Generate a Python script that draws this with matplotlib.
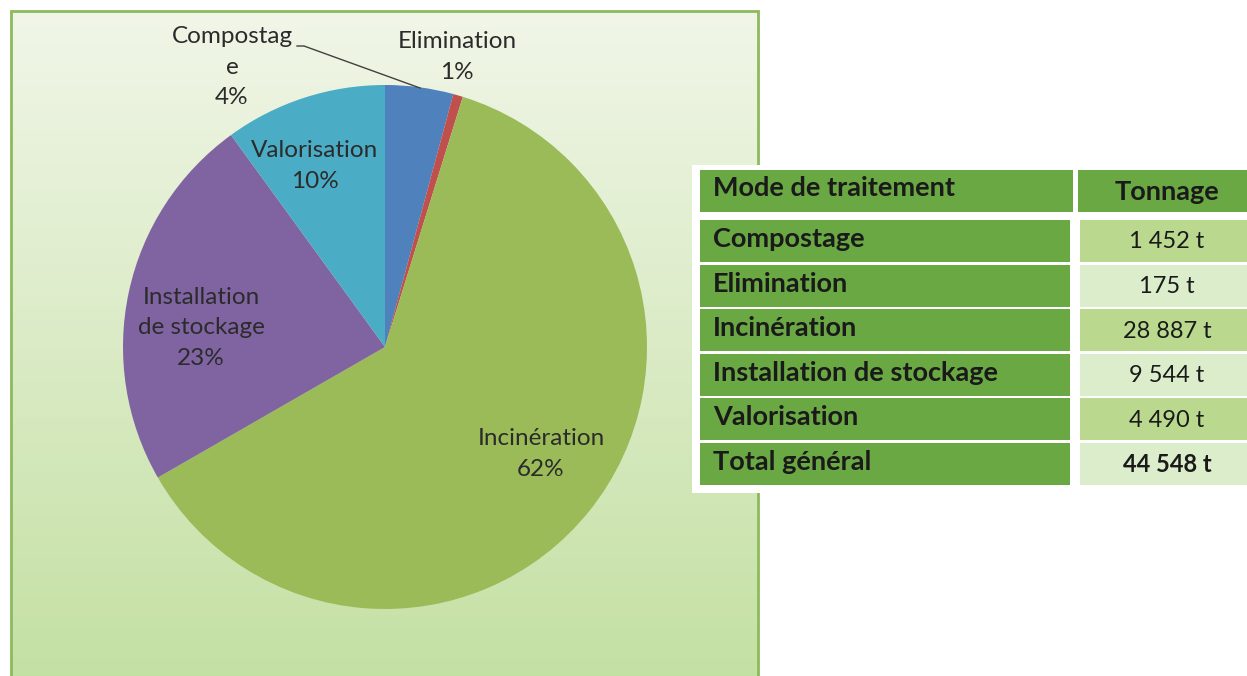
import numpy as np
import matplotlib
matplotlib.use("Agg")
import matplotlib.pyplot as plt
from matplotlib.patches import Rectangle
from matplotlib.colors import to_rgb

plt.rcParams['font.family'] = ['Lato', 'DejaVu Sans']

# ---- data ----
modes = ["Compostage", "Elimination", "Incinération", "Installation de stockage", "Valorisation"]
tonnage_labels = ["1 452 t", "175 t", "28 887 t", "9 544 t", "4 490 t"]
total_label = "44 548 t"
# pie shares (%) as drawn in the chart
pie_shares = [4.2, 0.6, 61.9, 23.3, 10.0]
pie_labels = ["Compostag\ne\n4%", "Elimination\n1%", "Incinération\n62%",
              "Installation\nde stockage\n23%", "Valorisation\n10%"]
pie_colors = ["#4f81bd", "#c0504d", "#9bbb59", "#8064a2", "#4bacc6"]

W, H = 1247, 676
fig = plt.figure(figsize=(W / 100, H / 100), dpi=100)
ax = fig.add_axes([0, 0, 1, 1])

def Y(y):  # image y (down) -> data y (up)
    return H - y

# ---- panel with gradient ----
px0, px1, py0, py1 = 11, 758, 11, 690
top_c = np.array(to_rgb("#f1f6e8"))
bot_c = np.array(to_rgb("#c3e0a2"))
t = np.linspace(0, 1, 256)[:, None]
grad = top_c[None, :] * (1 - t) + bot_c[None, :] * t
grad = np.repeat(grad[:, None, :], 2, axis=1)
ax.imshow(grad, extent=[px0, px1, Y(py1), Y(py0)], aspect='auto', zorder=0)
ax.add_patch(Rectangle((px0, Y(py1)), px1 - px0, py1 - py0, fill=False,
                       edgecolor="#8dba5c", lw=2, zorder=1))

# ---- pie ----
cx, cy, r = 385, 347, 262
ax.pie(pie_shares, colors=pie_colors, startangle=90, counterclock=False,
       center=(cx, Y(cy)), radius=r, frame=True,
       wedgeprops=dict(linewidth=0, zorder=2))

label_pos = [(232, 67), (457, 57), (541, 454), (201, 328), (315, 166)]
for lab, (lx, ly) in zip(pie_labels, label_pos):
    ax.text(lx, Y(ly), lab, ha='center', va='center', fontsize=17.5,
            color="#2b2b2b", linespacing=1.58, zorder=5)
# leader line for Compostage
ax.plot([297, 304, 420], [Y(46), Y(46), Y(88)], color="#404040", lw=1.0, zorder=5)

# ---- table ----
ax.add_patch(Rectangle((692, Y(493)), W - 692, 493 - 165, facecolor="white",
                       edgecolor="none", zorder=3))
dark = "#6aa843"
light_a = "#bad98f"
light_b = "#dcedcc"
txt_c = "#1a1a1a"
# header
ax.add_patch(Rectangle((700, Y(212)), 373, 42, facecolor=dark, zorder=4))
ax.add_patch(Rectangle((1078, Y(212)), W - 1078, 42, facecolor=dark, zorder=4))
ax.text(713, Y(188), "Mode de traitement", ha='left', va='center', fontsize=19.5,
        fontweight='bold', color=txt_c, zorder=6)
ax.text(1167, Y(192), "Tonnage", ha='center', va='center', fontsize=19.5,
        fontweight='bold', color=txt_c, zorder=6)

rows = modes + ["Total général"]
vals = tonnage_labels + [total_label]
row_top0, row_step, row_h = 220, 44.6, 42
for i, (name, val) in enumerate(zip(rows, vals)):
    top = row_top0 + i * row_step
    ax.add_patch(Rectangle((700, Y(top + row_h)), 370, row_h, facecolor=dark, zorder=4))
    ax.add_patch(Rectangle((1080, Y(top + row_h)), W - 1080, row_h,
                           facecolor=(light_a if i % 2 == 0 else light_b), zorder=4))
    ax.text(713, Y(top + 19), name, ha='left', va='center', fontsize=19.5,
            fontweight='bold', color=txt_c, zorder=6)
    ax.text(1167, Y(top + 22), val, ha='center', va='center', fontsize=17,
            fontweight=('bold' if i == len(rows) - 1 else 'normal'), color=txt_c, zorder=6)

ax.set_xlim(0, W)
ax.set_ylim(0, H)
ax.set_aspect('auto')
ax.axis('off')
fig.savefig("out.png", dpi=100, facecolor="white")
